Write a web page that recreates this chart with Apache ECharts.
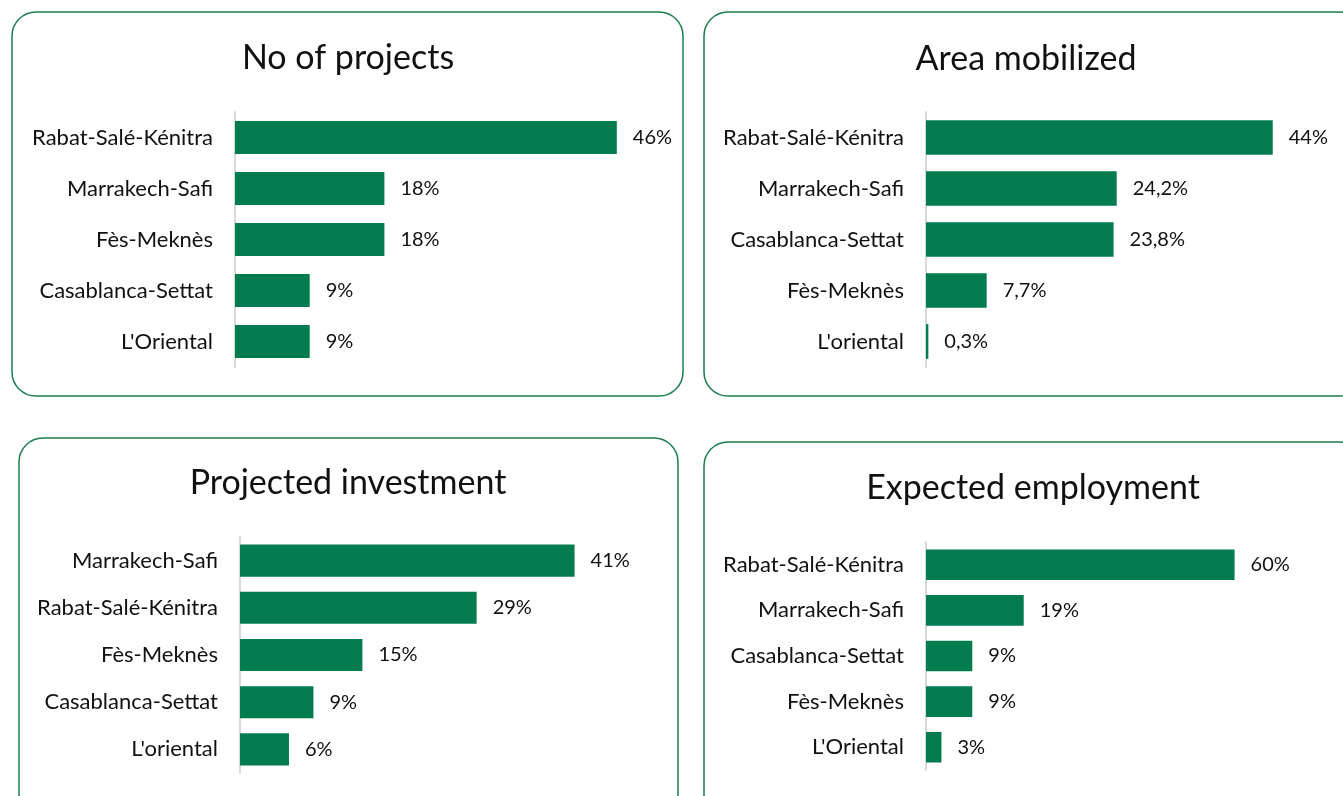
<!DOCTYPE html>
<html lang="en">
<head>
    <meta charset="UTF-8">
    <script src="https://cdn.jsdelivr.net/npm/echarts@6/dist/echarts.min.js"></script>
    <title>Regional breakdown</title>
    <style>
        html, body { margin: 0; padding: 0; background: #fff; }
    </style>
</head>
<body>
    <div id="main" style="width: 1343px;height:796px;"></div>
</body>
<script type="text/javascript">
    // panel titles
    var titles = ['No of projects', 'Area mobilized', 'Projected investment', 'Expected employment'];

    // categories (top to bottom) and values in %
    var projectsCats = ['Rabat-Salé-Kénitra', 'Marrakech-Safi', 'Fès-Meknès', 'Casablanca-Settat', "L'Oriental"];
    var projectsVals = [46, 18, 18, 9, 9];

    var areaCats = ['Rabat-Salé-Kénitra', 'Marrakech-Safi', 'Casablanca-Settat', 'Fès-Meknès', "L'oriental"];
    var areaVals = [44, 24.2, 23.8, 7.7, 0.3];

    var investCats = ['Marrakech-Safi', 'Rabat-Salé-Kénitra', 'Fès-Meknès', 'Casablanca-Settat', "L'oriental"];
    var investVals = [41, 29, 15, 9, 6];

    var employCats = ['Rabat-Salé-Kénitra', 'Marrakech-Safi', 'Casablanca-Settat', 'Fès-Meknès', "L'Oriental"];
    var employVals = [60, 19, 9, 9, 3];

    var FONT = 'Lato';
    var GREEN = '#027b4e';

    var chart = echarts.init(document.getElementById('main'));

    // layout of each panel: box + plotting grid
    var panels = [
        {box: [12, 12, 671, 384], grid: {left: 235, top: 112, height: 255, width: 415}, max: 50, cats: projectsCats, vals: projectsVals, titleX: 343, titleY: 36, gap: '35%'},
        {box: [704, 12, 660, 384], grid: {left: 926, top: 112, height: 255, width: 394}, max: 50, cats: areaCats, vals: areaVals, titleX: 1021, titleY: 37, gap: '32%'},
        {box: [19, 438, 659, 380], grid: {left: 240, top: 537, height: 236, width: 408}, max: 50, cats: investCats, vals: investVals, titleX: 343, titleY: 461, gap: '32%'},
        {box: [704, 442, 660, 380], grid: {left: 926, top: 542, height: 228, width: 360}, max: 70, cats: employCats, vals: employVals, titleX: 1028, titleY: 466, gap: '33%'}
    ];

    var option = {
        animation: false,
        textStyle: {fontFamily: FONT},
        title: [],
        grid: [],
        xAxis: [],
        yAxis: [],
        series: [],
        graphic: []
    };

    panels.forEach(function (p, i) {
        option.graphic.push({
            type: 'rect',
            shape: {x: p.box[0], y: p.box[1], width: p.box[2], height: p.box[3], r: 24},
            style: {fill: 'none', stroke: '#1b7d50', lineWidth: 1.5},
            silent: true
        });
        option.title.push({
            text: titles[i],
            left: p.titleX,
            top: p.titleY,
            textAlign: 'center',
            textStyle: {fontFamily: FONT, fontSize: 34, fontWeight: 'normal', color: '#111'}
        });
        option.grid.push(p.grid);
        option.xAxis.push({
            type: 'value', gridIndex: i, min: 0, max: p.max, show: false
        });
        option.yAxis.push({
            type: 'category', gridIndex: i, data: p.cats, inverse: true,
            axisLine: {lineStyle: {color: '#d9d9d9', width: 2}},
            axisTick: {show: false},
            axisLabel: {margin: 22, fontSize: 22, color: '#111', fontFamily: FONT}
        });
        option.series.push({
            type: 'bar', xAxisIndex: i, yAxisIndex: i,
            data: p.vals,
            barCategoryGap: p.gap,
            itemStyle: {color: GREEN},
            label: {
                show: true, position: 'right', distance: 16,
                fontSize: 20, color: '#111', fontFamily: FONT,
                formatter: function (d) { return String(d.value).replace('.', ',') + '%'; }
            }
        });
    });

    chart.setOption(option);
</script>
</html>
